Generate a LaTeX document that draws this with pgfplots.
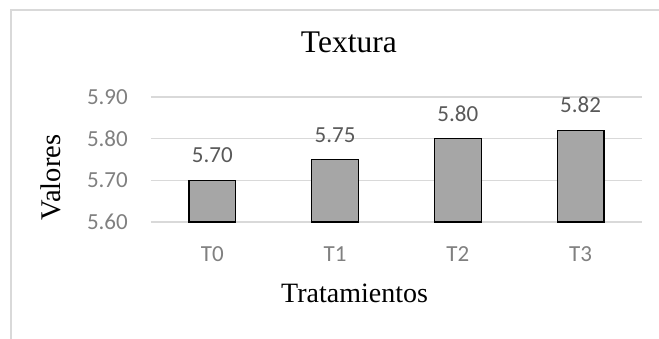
\documentclass[border=0pt]{standalone}
\usepackage{fontspec}
\setmainfont{Liberation Serif}
\newfontfamily\calibri{Carlito}
\usepackage{pgfplots}
\pgfplotsset{compat=1.18}
\definecolor{gridgray}{HTML}{D9D9D9}
\definecolor{barfill}{HTML}{A6A6A6}
\definecolor{ticktext}{HTML}{808080}
\definecolor{labeltext}{HTML}{595959}

\begin{document}
\begin{tikzpicture}
\useasboundingbox (0,0) rectangle (659pt,338pt);
% chart area frame
\draw[gridgray, line width=1.3pt] (11pt,-2pt) -- (11pt,328pt) -- (661pt,328pt);
\begin{axis}[
  at={(151pt,116pt)}, anchor=south west,
  scale only axis, width=491pt, height=125pt,
  ybar, bar width=46.7pt,
  xmin=-0.5, xmax=3.5, ymin=5.6, ymax=5.9,
  xtick=data, xticklabels={T0,T1,T2,T3},
  ytick={5.6,5.7,5.8,5.9},
  ymajorgrids, major grid style={gridgray, line width=1.3pt},
  axis line style={draw=none},
  major tick length=0pt,
  /pgf/number format/assume math mode=true,
  /pgf/number format/fixed,
  /pgf/number format/fixed zerofill,
  /pgf/number format/precision=2,
  yticklabel style={font=\calibri\fontsize{23}{23}\selectfont, text=ticktext, anchor=east, inner sep=0pt, xshift=-23pt},
  xticklabel style={font=\calibri\fontsize{23}{23}\selectfont, text=ticktext, anchor=base, inner sep=0pt, yshift=-39.5pt},
  nodes near coords,
  nodes near coords style={font=\calibri\fontsize{23}{23}\selectfont, text=labeltext, anchor=base, inner sep=0pt, yshift=17.4pt},
  title={Textura},
  title style={font=\fontsize{31.5}{32}\selectfont, at={(axis description cs:0.403,1.31)}, anchor=base, inner sep=0pt},
  xlabel={Tratamientos},
  xlabel style={font=\fontsize{28}{28}\selectfont, at={(axis description cs:0.4145,-0.64)}, anchor=base, inner sep=0pt},
  ylabel={Valores},
  ylabel style={font=\fontsize{28.5}{28}\selectfont, at={(axis description cs:-0.1833,0.356)}, anchor=base, inner sep=0pt},
]
\addplot[fill=barfill, draw=black, line width=1.3pt] coordinates {
  (0,5.70) (1,5.75) (2,5.80) (3,5.82)
};
\end{axis}
\end{tikzpicture}
\end{document}
